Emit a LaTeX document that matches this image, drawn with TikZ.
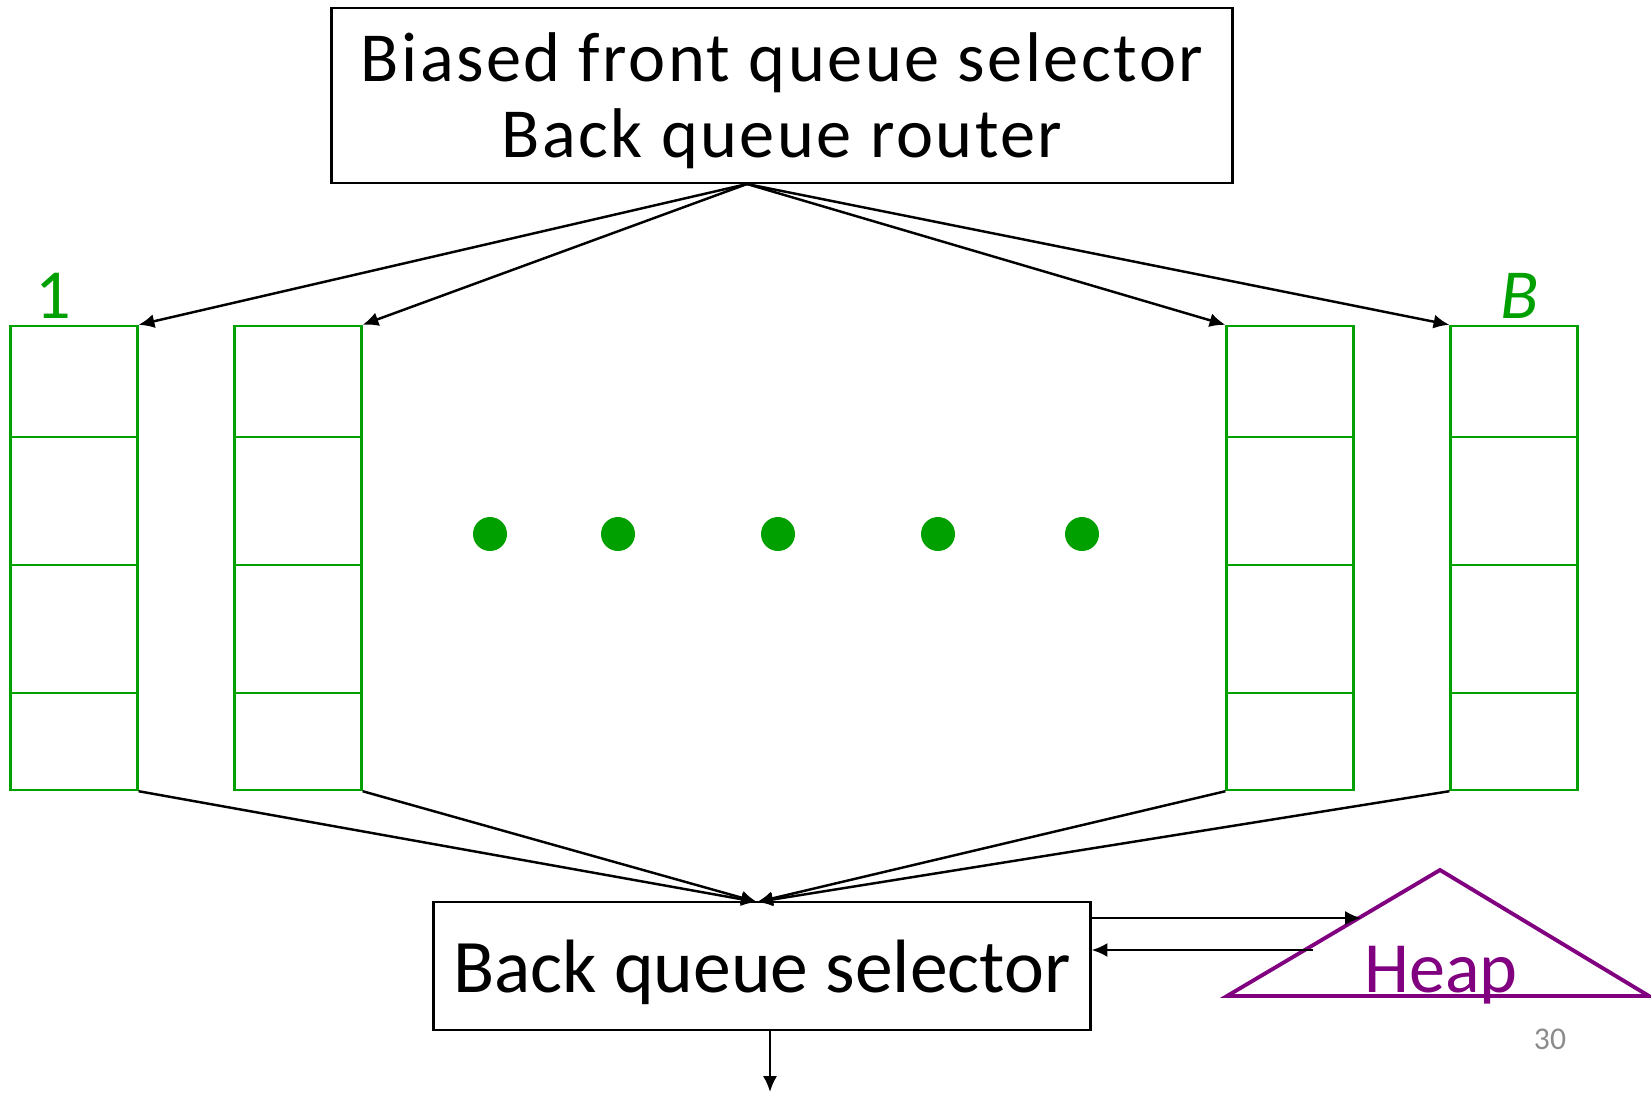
\documentclass[tikz,border=0pt]{standalone}
\usepackage{fontspec}
\setmainfont{Carlito}
\usetikzlibrary{calc,arrows.meta}
\definecolor{qgreen}{RGB}{0,160,0}
\definecolor{heapcol}{RGB}{128,0,128}
\definecolor{pagegray}{RGB}{140,140,140}

\begin{document}
\begin{tikzpicture}[x=0.01cm,y=-0.01cm,
  caixa/.style={draw,line width=0.8pt,align=center,inner sep=0pt,text depth=0pt},
  fila/.style={draw=qgreen,line width=0.6pt,minimum width=1.27cm,minimum height=4.64cm,inner sep=0pt},
  seta/.style={line width=0.7pt,-{Latex[length=4.5pt,width=4pt]}}]
  \useasboundingbox (0,0) rectangle (1651,1093);

  % Caixa de cima
  \node[caixa,minimum width=9cm,minimum height=1.75cm,
    font=\fontsize{20}{21.6}\selectfont\addfontfeature{LetterSpace=3.5}] (router) at (782,95.5)
    {Biased front queue selector\\Back queue router};
  \coordinate (src) at (747,184);

  % Filas de tras
  \node[fila] (q1) at (74,558) {};
  \node[fila] (q2) at (298,558) {};
  \node[fila] (q3) at (1290,558) {};
  \node[fila] (q4) at (1514,558) {};
  \foreach \q in {q1,q2,q3,q4}
    \foreach \d in {112,240,368}
      \draw[draw=qgreen,line width=0.6pt] ($(\q.north west)+(0,\d)$) -- ($(\q.north east)+(0,\d)$);

  \node[anchor=base,text=qgreen,font=\fontsize{20}{24}\selectfont] (lab1) at (53,318) {1};
  \node[anchor=base,text=qgreen,font=\fontsize{20}{24}\selectfont\itshape] (labB) at (1520,318) {B};

  % Pontos
  \foreach \x in {490,618,778,938,1082}
    \fill[qgreen] (\x,534) circle (17);

  % Setas de cima
  \draw[seta] (src) -- (q1.north east);
  \draw[seta] (src) -- (q2.north east);
  \draw[seta] (src) -- (q3.north west);
  \draw[seta] (src) -- (q4.north west);

  % Seletor
  \node[caixa,minimum width=6.56cm,minimum height=1.28cm,font=\fontsize{21.5}{26}\selectfont] (sel) at (762,966)
    {Back queue selector};
  \coordinate (dst) at (757,902);
  \draw[seta] (q1.south east) -- (dst);
  \draw[seta] (q2.south east) -- (dst);
  \draw[seta] (q3.south west) -- (dst);
  \draw[seta] (q4.south west) -- (dst);

  \coordinate (out) at (770,1092);
  \draw[seta] (sel.south -| out) -- (out);

  % Heap
  \draw[heapcol,line width=1.1pt] (1227,996) -- (1440,870) -- (1649,996) -- cycle;
  \node[anchor=base,text=heapcol,font=\fontsize{20.5}{24}\selectfont] (heap) at (1441,992) {Heap};
  \coordinate (hin) at (1361,918);
  \coordinate (hout) at (1313,950);
  \draw[seta] (sel.east |- hin) -- (hin);
  \draw[seta] (hout) -- (sel.east |- hout);

  \node[text=pagegray,font=\fontsize{9}{10}\selectfont] (page) at (1550,1039) {30};
\end{tikzpicture}
\end{document}
